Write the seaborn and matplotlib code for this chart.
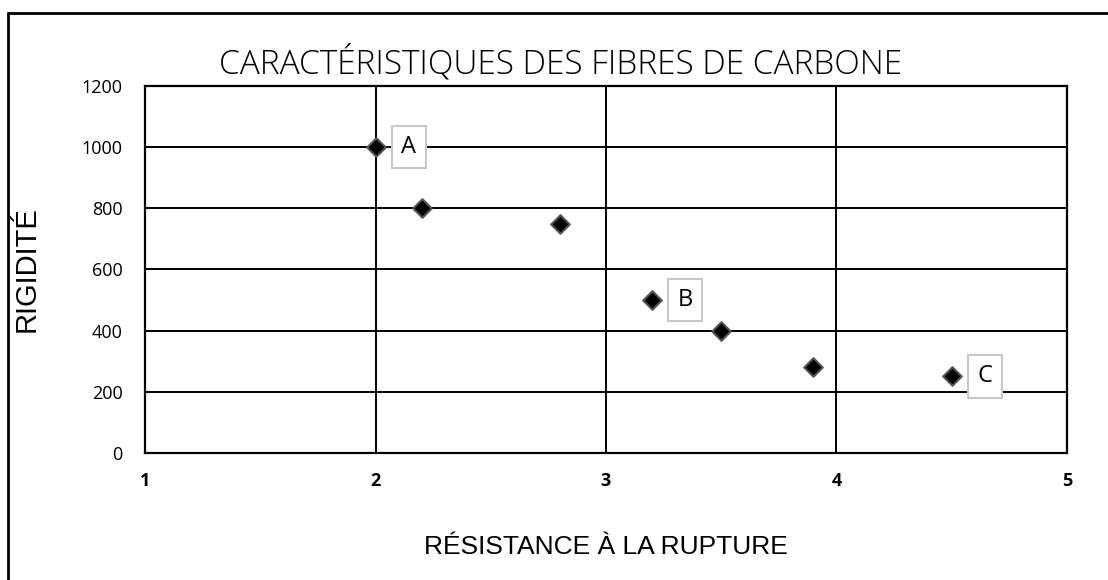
import pandas as pd
import seaborn as sns
import matplotlib.pyplot as plt
from matplotlib.lines import Line2D

# data
resistance = [2.0, 2.2, 2.8, 3.2, 3.5, 3.9, 4.5]
rigidite = [1000, 800, 750, 500, 400, 280, 250]
labels = ['A', '', '', 'B', '', '', 'C']

x_ticks = [1, 2, 3, 4, 5]
y_ticks = [0, 200, 400, 600, 800, 1000, 1200]

df = pd.DataFrame({'Résistance': resistance, 'Rigidité': rigidite, 'Label': labels})

sns.set_theme(style='white')
plt.rcParams['font.family'] = ['Open Sans', 'DejaVu Sans']

fig = plt.figure(figsize=(11.08, 5.8), dpi=100)
ax = fig.add_axes([0.1309, 0.219, 0.832, 0.633])

sns.scatterplot(ax=ax, data=df, x='Résistance', y='Rigidité', marker='D', s=90,
                color='black', edgecolor='#555555', linewidth=1.5, zorder=5, legend=False)

for _, r in df[df.Label != ''].iterrows():
    ax.annotate(r.Label, (r['Résistance'], r['Rigidité']), xytext=(24, 0),
                textcoords='offset points', ha='center', va='center', fontsize=17,
                color='black',
                bbox=dict(boxstyle='square,pad=0.4', fc='white', ec='#c8c8c8', lw=1.5),
                zorder=6)

ax.set_xlim(1, 5)
ax.set_ylim(0, 1200)
ax.set_xticks(x_ticks)
ax.set_yticks(y_ticks)
ax.set_xticklabels([str(t) for t in x_ticks], fontweight='bold', fontsize=13)
ax.set_yticklabels([str(t) for t in y_ticks], fontsize=13)
ax.tick_params(axis='x', pad=14, length=0, colors='black')
ax.tick_params(axis='y', pad=16, length=0, colors='black')

ax.grid(True, color='black', linewidth=1.4)
for s in ax.spines.values():
    s.set_color('black')
    s.set_linewidth(1.6)

ax.set_xlabel('RÉSISTANCE À LA RUPTURE', fontsize=19, labelpad=32, color='black',
              family=['Liberation Sans', 'DejaVu Sans'])
ax.set_ylabel('RIGIDITÉ', fontsize=21, labelpad=30, color='black',
              family=['Liberation Sans', 'DejaVu Sans'])
fig.text(561 / 1108, 1 - 63 / 580, 'CARACTÉRISTIQUES DES FIBRES DE CARBONE', fontsize=24,
         fontweight='light', color='black', ha='center', va='center')

# outer frame (top and left only)
fig.add_artist(Line2D([8 / 1108, 1.0], [1 - 13 / 580, 1 - 13 / 580], transform=fig.transFigure,
                      color='black', lw=2))
fig.add_artist(Line2D([8 / 1108, 8 / 1108], [0.0, 1 - 13 / 580], transform=fig.transFigure,
                      color='black', lw=2))

fig.savefig('out.png', dpi=100)
